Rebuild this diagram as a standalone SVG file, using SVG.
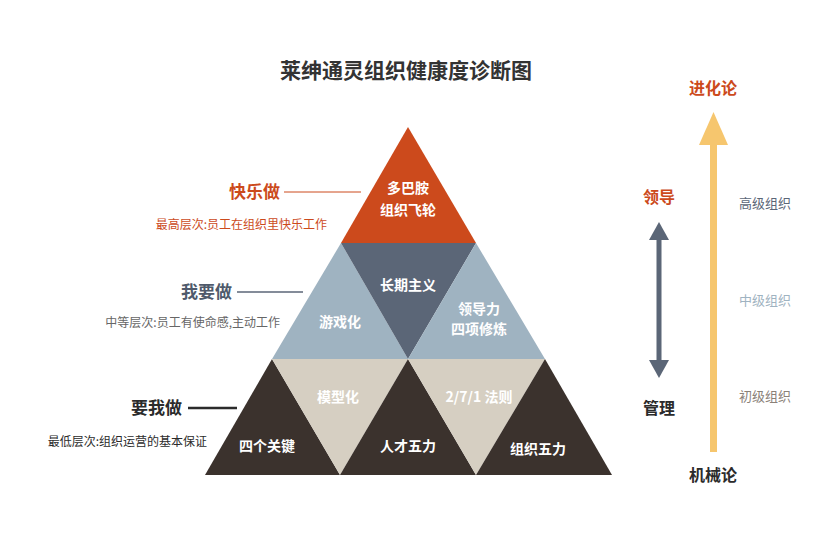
<svg xmlns="http://www.w3.org/2000/svg" width="837" height="559" viewBox="0 0 837 559">
<style>
text{font-family:"Noto Sans CJK SC","Noto Sans",sans-serif;}
.w{fill:#fff;font-size:14px;font-weight:700;text-anchor:middle;}
.lb{font-size:17px;font-weight:700;text-anchor:end;}
.sb{font-size:12px;text-anchor:end;}
.r{font-size:13px;text-anchor:middle;}
.c{font-size:16px;font-weight:700;text-anchor:middle;}
</style>
<rect width="837" height="559" fill="#fff"/>
<text x="406" y="78" font-size="21" font-weight="700" text-anchor="middle" fill="#333">莱绅通灵组织健康度诊断图</text>
<g id="pyramid">
<polygon points="408,127 341,243 476,243" fill="#cc4a1c"/>
<polygon points="341,243 272,359 408,359" fill="#9fb3c1"/>
<polygon points="341,243 476,243 408,359" fill="#5b6677"/>
<polygon points="476,243 408,359 545,359" fill="#9fb3c1"/>
<polygon points="272,359 205,475 340,475" fill="#3b322d"/>
<polygon points="272,359 408,359 340,475" fill="#d6cfc2"/>
<polygon points="408,359 340,475 476,475" fill="#3b322d"/>
<polygon points="408,359 545,359 476,475" fill="#d6cfc2"/>
<polygon points="545,359 476,475 612,475" fill="#3b322d"/>
</g>
<g id="pyramid-labels">
<text class="w" x="408" y="193">多巴胺</text>
<text class="w" x="408" y="215">组织飞轮</text>
<text class="w" x="408" y="290">长期主义</text>
<text class="w" x="340" y="327">游戏化</text>
<text class="w" x="479" y="314">领导力</text>
<text class="w" x="479" y="334">四项修炼</text>
<text class="w" x="338" y="402">模型化</text>
<text class="w" x="479" y="402">2/7/1 法则</text>
<text class="w" x="267" y="451">四个关键</text>
<text class="w" x="408" y="451">人才五力</text>
<text class="w" x="538" y="454">组织五力</text>
</g>
<g id="left-labels">
<text class="lb" x="280" y="198" fill="#cc4a1c">快乐做</text>
<text class="sb" x="327" y="229" fill="#cc4a1c">最高层次:员工在组织里快乐工作</text>
<text class="lb" x="232" y="298" fill="#4f5a6b">我要做</text>
<text class="sb" x="280" y="327" fill="#666">中等层次:员工有使命感,主动工作</text>
<text class="lb" x="182" y="414" fill="#2b2b2b">要我做</text>
<text class="sb" x="207" y="446" fill="#2b2b2b">最低层次:组织运营的基本保证</text>
</g>
<g id="connectors">
<line x1="284" y1="192" x2="361" y2="192" stroke="#cc4a1c" stroke-width="1"/>
<line x1="237" y1="292" x2="303" y2="292" stroke="#5b6677" stroke-width="1.5"/>
<line x1="188" y1="408" x2="237" y2="408" stroke="#2b2b2b" stroke-width="2.5"/>
<rect x="710" y="144" width="7" height="308" fill="#f6c66e"/>
<polygon points="713.5,112 699,145 728,145" fill="#f6c66e"/>
<rect x="656.5" y="238" width="5" height="124" fill="#5b6677"/>
<polygon points="659,222 649,240 669,240" fill="#5b6677"/>
<polygon points="659,378 649,360 669,360" fill="#5b6677"/>
</g>
<g id="right-labels">
<text class="c" x="713" y="94" fill="#cc4a1c">进化论</text>
<text class="c" x="659" y="203" fill="#cc4a1c">领导</text>
<text class="c" x="659" y="414" fill="#2b2b2b">管理</text>
<text class="c" x="713" y="481" fill="#2b2b2b">机械论</text>
<text class="r" x="765" y="208" fill="#5b6677">高级组织</text>
<text class="r" x="765" y="305" fill="#9fb3c1">中级组织</text>
<text class="r" x="765" y="401" fill="#8a8178">初级组织</text>
</g>
</svg>
